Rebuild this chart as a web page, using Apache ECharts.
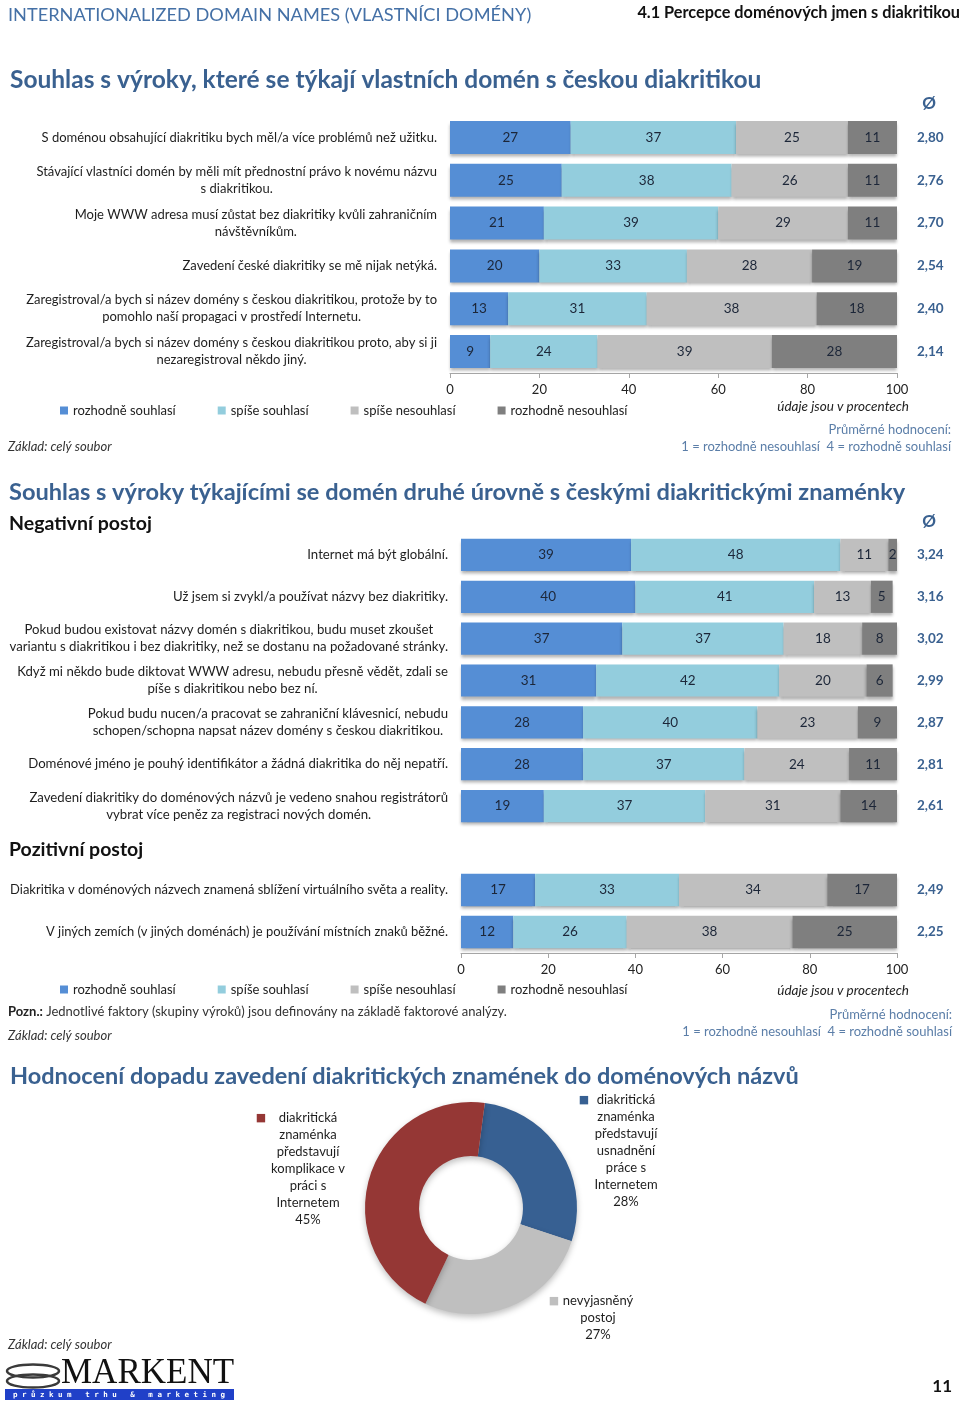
<!DOCTYPE html>
<html><head><meta charset="utf-8">
<script src="https://cdn.jsdelivr.net/npm/echarts@6/dist/echarts.min.js"></script>
<style>html,body{margin:0;padding:0;background:#fff}#c{width:960px;height:1401px}</style>
</head><body><div id="c"></div>
<script>
// ---------- DATA ----------
const seriesNames = ['rozhodně souhlasí', 'spíše souhlasí', 'spíše nesouhlasí', 'rozhodně nesouhlasí'];
const xTickLabels = ['0', '20', '40', '60', '80', '100'];

const cat1 = [
  'S doménou obsahující diakritiku bych měl/a více problémů než užitku.',
  'Stávající vlastníci domén by měli mít přednostní právo k novému názvu\ns diakritikou.',
  'Moje WWW adresa musí zůstat bez diakritiky kvůli zahraničním\nnávštěvníkům.',
  'Zavedení české diakritiky se mě nijak netýká.',
  'Zaregistroval/a bych si název domény s českou diakritikou, protože by to\npomohlo naší propagaci v prostředí Internetu.',
  'Zaregistroval/a bych si název domény s českou diakritikou proto, aby si ji\nnezaregistroval někdo jiný.'
];
const c1RS = [27, 25, 21, 20, 13, 9];
const c1SS = [37, 38, 39, 33, 31, 24];
const c1SN = [25, 26, 29, 28, 38, 39];
const c1RN = [11, 11, 11, 19, 18, 28];
const c1Mean = ['2,80', '2,76', '2,70', '2,54', '2,40', '2,14'];

const cat2 = [
  'Internet má být globální.',
  'Už jsem si zvykl/a používat názvy bez diakritiky.',
  'Pokud budou existovat názvy domén s diakritikou, budu muset zkoušet\nvariantu s diakritikou i bez diakritiky, než se dostanu na požadované stránky.',
  'Když mi někdo bude diktovat WWW adresu, nebudu přesně vědět, zdali se\npíše s diakritikou nebo bez ní.',
  'Pokud budu nucen/a pracovat se zahraniční klávesnicí, nebudu\nschopen/schopna napsat název domény s českou diakritikou.',
  'Doménové jméno je pouhý identifikátor a žádná diakritika do něj nepatří.',
  'Zavedení diakritiky do doménových názvů je vedeno snahou registrátorů\nvybrat více peněz za registraci nových domén.'
];
const c2RS = [39, 40, 37, 31, 28, 28, 19];
const c2SS = [48, 41, 37, 42, 40, 37, 37];
const c2SN = [11, 13, 18, 20, 23, 24, 31];
const c2RN = [2, 5, 8, 6, 9, 11, 14];
const c2Mean = ['3,24', '3,16', '3,02', '2,99', '2,87', '2,81', '2,61'];

const cat3 = [
  'Diakritika v doménových názvech znamená sblížení virtuálního světa a reality.',
  'V jiných zemích (v jiných doménách) je používání místních znaků běžné.'
];
const c3RS = [17, 12];
const c3SS = [33, 26];
const c3SN = [34, 38];
const c3RN = [17, 25];
const c3Mean = ['2,49', '2,25'];

const pieNames = [
  'diakritická znaménka představují usnadnění práce s Internetem',
  'nevyjasněný postoj',
  'diakritická znaménka představují komplikace v práci s Internetem'
];
const pieLabelLines = [
  ['diakritická', 'znaménka', 'představují', 'usnadnění', 'práce s', 'Internetem'],
  ['nevyjasněný', 'postoj'],
  ['diakritická', 'znaménka', 'představují', 'komplikace v', 'práci s', 'Internetem']
];
const pieValues = [28, 27, 45];

// ---------- STYLE ----------
const FONT = 'Lato';
const barColors = ['#558ed5', '#93cddd', '#bfbfbf', '#7f7f7f'];
const pieColors = ['#376092', '#bfbfbf', '#953735'];
const BLUE = '#3a6190';
const LIGHTBLUE = '#5b7ea8';
const TXT = '#1e1e1e';

function catLabel(v) { return v.split('\n').map(s => '{c|' + s + '}').join('\n'); }

const grids = [
  { left: 450, top: 116, width: 447, height: 257 },
  { left: 461, top: 534, width: 436, height: 293 },
  { left: 461, top: 869, width: 436, height: 84 }
];
const cats = [cat1, cat2, cat3];
const means = [c1Mean, c2Mean, c3Mean];
const vals = [[c1RS, c1SS, c1SN, c1RN], [c2RS, c2SS, c2SN, c2RN], [c3RS, c3SS, c3SN, c3RN]];
const showX = [true, false, true];
const catFont = [13.0, 13.2, 12.95];

const xAxis = [], yAxis = [], series = [];
grids.forEach((g, gi) => {
  xAxis.push({
    gridIndex: gi, type: 'value', min: 0, max: 100, interval: 20, show: showX[gi],
    axisLine: { show: true, lineStyle: { color: '#a6a6a6', width: 1 } },
    axisTick: { show: true, length: 5, lineStyle: { color: '#a6a6a6' } },
    splitLine: { show: false },
    axisLabel: { margin: 10, fontSize: 13, color: '#222', fontFamily: FONT,
      formatter: v => xTickLabels[Math.round(v / 20)] }
  });
  yAxis.push({
    gridIndex: gi, type: 'category', inverse: true, data: cats[gi],
    axisLine: { show: false }, axisTick: { show: false },
    axisLabel: { interval: 0, margin: 13, formatter: catLabel,
      rich: { c: { align: 'center', fontSize: catFont[gi], lineHeight: 17, color: TXT, fontFamily: FONT } } }
  });
  yAxis.push({
    gridIndex: gi, type: 'category', inverse: true, position: 'right', data: means[gi],
    axisLine: { show: false }, axisTick: { show: false },
    axisLabel: { interval: 0, margin: 20, fontSize: 13.5, fontWeight: 'bold', color: BLUE, fontFamily: FONT }
  });
  vals[gi].forEach((arr, si) => {
    series.push({
      type: 'bar', name: seriesNames[si], stack: 's' + gi,
      xAxisIndex: gi, yAxisIndex: gi * 2, data: arr,
      barCategoryGap: '23%',
      itemStyle: { color: barColors[si], shadowColor: 'rgba(0,0,0,0.3)', shadowBlur: 3, shadowOffsetY: 3 },
      label: { show: true, position: 'inside', fontSize: 13.5, color: '#1c2638', fontFamily: FONT },
      emphasis: { disabled: true }
    });
  });
});

// pie
const pieLabelPos = [
  { x: 626, y: 1151, sq: 18 },
  { x: 598, y: 1318, sq: 14 },
  { x: 308, y: 1169, sq: 23 }
];
const pieRich = { c: { align: 'center', fontSize: 13, lineHeight: 17, color: TXT, fontFamily: FONT } };
pieColors.forEach((col, i) => {
  pieRich['s' + i] = { align: 'left', width: pieLabelPos[i].sq, fontSize: 11, lineHeight: 17, color: col, fontFamily: 'DejaVu Sans' };
  pieRich['r' + i] = { align: 'right', width: pieLabelPos[i].sq, fontSize: 11, lineHeight: 17 };
});
series.push({
  type: 'pie', center: [471, 1208], radius: [52, 106], startAngle: 82.5, clockwise: true,
  avoidLabelOverlap: false,
  data: pieNames.map((n, i) => ({ name: n, value: pieValues[i], itemStyle: { color: pieColors[i] } })),
  itemStyle: { shadowColor: 'rgba(0,0,0,0.25)', shadowBlur: 6, shadowOffsetY: 3 },
  label: {
    show: true, position: 'outside',
    formatter: p => {
      const lines = pieLabelLines[p.dataIndex];
      const out = lines.map((l, k) => k === 0
        ? '{s' + p.dataIndex + '|■}{c|' + l + '}{r' + p.dataIndex + '| }'
        : '{c|' + l + '}');
      out.push('{c|' + p.value + '%}');
      return out.join('\n');
    },
    rich: pieRich
  },
  labelLine: { show: false },
  labelLayout: p => ({ x: pieLabelPos[p.dataIndex].x, y: pieLabelPos[p.dataIndex].y, align: 'center', verticalAlign: 'middle' }),
  emphasis: { disabled: true }
});

// ---------- TEXT ----------
function T(text, x, y, font, fill, align) {
  return { type: 'text', silent: true, style: { text, x, y, font, fill: fill || TXT, align: align || 'left', textAlign: align || 'left', verticalAlign: 'middle', textVerticalAlign: 'middle' } };
}
const graphic = [
  T('INTERNATIONALIZED DOMAIN NAMES (VLASTNÍCI DOMÉNY)', 8, 15, '18.2px ' + FONT, '#4470a6'),
  T('4.1 Percepce doménových jmen s diakritikou', 960, 13, 'bold 16.3px ' + FONT, '#111', 'right'),
  T('Souhlas s výroky, které se týkají vlastních domén s českou diakritikou', 10, 80, 'bold 24.5px ' + FONT, BLUE),
  T('Ø', 929, 104, 'bold 17px ' + FONT, BLUE, 'center'),
  T('údaje jsou v procentech', 909, 407, 'italic 13.5px ' + FONT, '#222', 'right'),
  T('Průměrné hodnocení:', 951, 430, '13px ' + FONT, LIGHTBLUE, 'right'),
  T('1 = rozhodně nesouhlasí  4 = rozhodně souhlasí', 951, 447, '13px ' + FONT, LIGHTBLUE, 'right'),
  T('Základ: celý soubor', 8, 447, 'italic 13px ' + FONT, '#333'),

  T('Souhlas s výroky týkajícími se domén druhé úrovně s českými diakritickými znaménky', 9, 492, 'bold 23.6px ' + FONT, BLUE),
  T('Negativní postoj', 9, 524, 'bold 19.5px ' + FONT, '#111'),
  T('Ø', 929, 522, 'bold 17px ' + FONT, BLUE, 'center'),
  T('Pozitivní postoj', 9, 850, 'bold 19.5px ' + FONT, '#111'),
  T('údaje jsou v procentech', 909, 991, 'italic 13.5px ' + FONT, '#222', 'right'),
  { type: 'text', silent: true, style: {
      text: '{b|Pozn.:} Jednotlivé faktory (skupiny výroků) jsou definovány na základě faktorové analýzy.',
      x: 8, y: 1012, font: '13px ' + FONT, fill: '#333', verticalAlign: 'middle', textVerticalAlign: 'middle',
      rich: { b: { fontWeight: 'bold', fontSize: 13, fontFamily: FONT, fill: '#222', color: '#222' } } } },
  T('Průměrné hodnocení:', 952, 1015, '13px ' + FONT, LIGHTBLUE, 'right'),
  T('1 = rozhodně nesouhlasí  4 = rozhodně souhlasí', 952, 1032, '13px ' + FONT, LIGHTBLUE, 'right'),
  T('Základ: celý soubor', 8, 1036, 'italic 13px ' + FONT, '#333'),

  T('Hodnocení dopadu zavedení diakritických znamének do doménových názvů', 10, 1076, 'bold 23.5px ' + FONT, BLUE),
  T('Základ: celý soubor', 8, 1345, 'italic 13px ' + FONT, '#333'),
  T('11', 952, 1387, 'bold 17px ' + FONT, '#111', 'right'),

  // logo
  { type: 'ellipse', silent: true, shape: { cx: 33, cy: 1371, rx: 26, ry: 6.5 }, style: { fill: 'none', stroke: '#3a3a3a', lineWidth: 2.5 } },
  { type: 'ellipse', silent: true, shape: { cx: 33, cy: 1381, rx: 26, ry: 6.5 }, style: { fill: 'none', stroke: '#3a3a3a', lineWidth: 2.5 } },
  T('MARKENT', 61, 1374, '35px "Liberation Serif"', '#111'),
  { type: 'rect', silent: true, shape: { x: 5, y: 1389, width: 229, height: 11 }, style: { fill: '#2040c8' } },
  T('p r ů z k u m   t r h u   &   m a r k e t i n g', 119, 1395, 'bold 7.5px "DejaVu Sans Mono"', '#fff', 'center')
];

const legendCommon = {
  data: seriesNames, left: 60, padding: 0, icon: 'rect', itemWidth: 8, itemHeight: 8, itemGap: 42, selectedMode: false,
  textStyle: { fontSize: 13, color: '#222', fontFamily: FONT }
};

const chart = echarts.init(document.getElementById('c'), null, { renderer: 'canvas' });
chart.setOption({
  animation: false,
  backgroundColor: '#fff',
  textStyle: { fontFamily: FONT },
  grid: grids,
  xAxis, yAxis, series,
  legend: [Object.assign({ top: 404 }, legendCommon), Object.assign({ top: 983 }, legendCommon)],
  graphic
});
</script></body></html>
